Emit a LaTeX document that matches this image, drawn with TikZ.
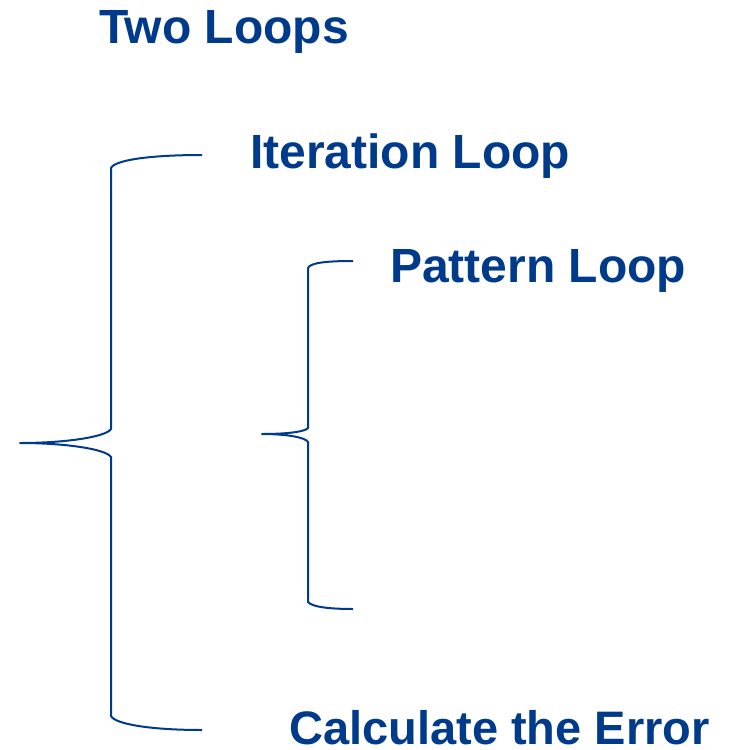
\documentclass[tikz,border=0pt]{standalone}
\usepackage{fontspec}
\setmainfont{Liberation Sans}
\definecolor{loopblue}{RGB}{0,58,138}
\begin{document}
\begin{tikzpicture}[x=1pt,y=-1pt,
  title/.style={anchor=base west,inner sep=0pt,text=loopblue,font=\fontsize{48}{50}\selectfont\bfseries},
  bracepath/.style={draw=loopblue,line width=2pt,line join=round}]
\useasboundingbox (0,0) rectangle (729,750);
\node[title] (two) at (99,43) {Two Loops};
\node[title] (iter) at (250,168) {Iteration Loop};
\node[title] (pat) at (390,282) {Pattern Loop};
\node[title,font=\fontsize{47}{50}\selectfont\bfseries] (err) at (289,744) {Calculate the Error};
% big brace
\draw[bracepath] (202,155) .. controls (150,155) and (115,160) .. (111,168) -- (111,429)
  .. controls (106,437) and (65,443) .. (20,443)
  .. controls (65,443) and (106,449) .. (111,457) -- (111,716)
  .. controls (115,724) and (150,730) .. (202,730);
% small brace
\draw[bracepath] (353,261) .. controls (325,261) and (310,263) .. (308,268) -- (308,428)
  .. controls (305,432) and (285,434) .. (262,434)
  .. controls (285,434) and (305,437) .. (308,442) -- (308,602)
  .. controls (312,607) and (330,609) .. (353,609);
\end{tikzpicture}
\end{document}
